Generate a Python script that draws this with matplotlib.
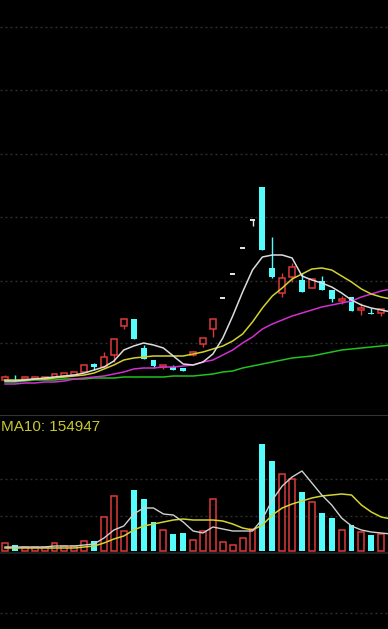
import matplotlib.pyplot as plt
import matplotlib

matplotlib.rcParams['lines.scale_dashes'] = False

# K线数据
opens  = [2.0, 2.22, 2.1, 2.1, 2.1, 2.3, 2.4, 2.5, 2.8, 3.6, 3.3, 4.5, 7.4, 8.1, 5.2, 4.0, 3.3, 3.3, 3.2, 4.5,
          5.6, 7.1, 10.2, 12.6, 15.2, 18.0, 21.3, 13.2, 10.7, 12.3, 12.0, 11.2, 11.9, 11.0, 9.9, 10.3, 9.0, 8.62, 8.7]
highs  = [2.5, 2.5, 2.4, 2.3, 2.3, 2.7, 2.7, 2.8, 3.5, 3.7, 4.8, 6.1, 8.1, 8.1, 5.5, 4.0, 3.5, 3.5, 3.2, 4.9,
          6.2, 8.1, 10.2, 12.6, 15.2, 18.0, 21.3, 16.3, 12.7, 13.7, 12.7, 12.1, 12.4, 11.0, 10.4, 10.3, 9.7, 9.2, 9.1]
lows   = [2.0, 1.9, 2.0, 2.1, 2.1, 2.3, 2.4, 2.5, 2.8, 3.0, 3.3, 3.8, 7.1, 6.1, 4.1, 3.2, 3.1, 3.0, 2.9, 4.4,
          5.3, 6.3, 10.2, 12.6, 15.2, 17.4, 15.0, 12.2, 10.3, 11.8, 10.8, 11.2, 11.0, 9.8, 9.6, 8.9, 8.5, 8.6, 8.4]
closes = [2.3, 2.18, 2.3, 2.3, 2.3, 2.6, 2.7, 2.8, 3.5, 3.3, 4.3, 6.1, 8.1, 6.1, 4.1, 3.4, 3.5, 3.0, 2.9, 4.8,
          6.2, 8.1, 10.2, 12.6, 15.2, 18.0, 15.0, 12.3, 12.2, 13.3, 10.8, 12.1, 11.0, 10.1, 10.1, 8.9, 9.2, 8.6, 9.1]

# 均线 (MA5 / MA10 / MA20 / MA60)
ma5  = [1.9, 1.9, 2.0, 2.1, 2.2, 2.3, 2.4, 2.5, 2.7, 3.0, 3.3, 3.9, 5.0, 5.4, 5.7, 5.5, 5.2, 4.4, 3.6, 3.5,
        3.8, 4.6, 6.2, 8.4, 10.8, 13.0, 14.3, 14.5, 14.5, 14.2, 12.4, 12.0, 11.7, 11.3, 10.7, 10.0, 9.5, 9.2, 9.0, 8.8]
ma10 = [2.0, 2.0, 2.0, 2.1, 2.1, 2.2, 2.3, 2.4, 2.5, 2.7, 3.1, 3.5, 4.0, 4.2, 4.3, 4.4, 4.4, 4.4, 4.4, 4.6,
        4.8, 5.1, 5.4, 5.9, 6.6, 7.8, 9.2, 10.4, 11.2, 12.1, 12.6, 13.1, 13.2, 13.0, 12.4, 11.8, 11.1, 10.6, 10.3, 10.1]
ma20 = [1.6, 1.6, 1.7, 1.7, 1.8, 1.8, 1.9, 2.1, 2.2, 2.3, 2.4, 2.6, 2.8, 3.1, 3.2, 3.2, 3.3, 3.3, 3.4, 3.5,
        3.8, 4.0, 4.5, 5.0, 5.7, 6.3, 7.1, 7.6, 8.0, 8.4, 8.7, 9.0, 9.3, 9.5, 9.7, 9.9, 10.3, 10.6, 10.9, 11.1]
ma60 = [1.8, 1.8, 1.9, 2.0, 2.0, 2.0, 2.1, 2.1, 2.1, 2.2, 2.2, 2.2, 2.3, 2.3, 2.3, 2.3, 2.3, 2.4, 2.4, 2.4,
        2.5, 2.6, 2.8, 2.9, 3.2, 3.4, 3.6, 3.8, 4.0, 4.2, 4.3, 4.4, 4.6, 4.8, 5.0, 5.1, 5.2, 5.3, 5.4, 5.5]

# 成交量
volume = [40200, 30800, 20500, 19800, 21300, 39600, 25400, 24800, 50300, 49700, 171200, 274500, 99800,
          305600, 258900, 146300, 104700, 85200, 89600, 55300, 100400, 259100, 45600, 30200, 65800, 110500,
          536400, 448700, 386200, 359300, 296400, 244800, 190500, 164300, 105200, 129800, 95600, 80400, 84900]
vol_ma5 = [20000, 20000, 20000, 20000, 20000, 25000, 25000, 25000, 30000, 35000, 65000, 105000, 125000,
           185000, 215000, 215000, 185000, 180000, 145000, 100000, 90000, 120000, 110000, 100000, 100000,
           100000, 160000, 255000, 325000, 370000, 400000, 340000, 280000, 230000, 165000, 125000, 105000,
           95000, 90000, 85000]
vol_ma10 = [15000, 15000, 15000, 15000, 15000, 15000, 15000, 15000, 20000, 25000, 40000, 60000, 75000,
            105000, 125000, 135000, 145000, 155000, 160000, 155000, 155000, 155000, 150000, 135000, 115000,
            105000, 130000, 180000, 215000, 235000, 250000, 265000, 275000, 280000, 285000, 280000, 230000,
            195000, 170000, 160000]

price_grid = [37.3, 31.0, 24.6, 18.3, 11.9, 5.7]
vol_grid = [175000, 360000]
ma10_label = 'MA10: 154947'

RED = '#dc3a3a'
CYAN = '#54fcfc'
GRID = '#303030'

W, H = 388, 629
fig = plt.figure(figsize=(W / 100, H / 100), dpi=100, facecolor='black')

xlim = (-5 / 9.9, 383 / 9.9)

# 上段: K线
ax1 = fig.add_axes([0, 1 - 416 / H, 1, 416 / H], facecolor='black')
ax1.set_xlim(*xlim)
ax1.set_ylim(-1.6, 40.0)
for g in price_grid:
    ax1.axhline(g, color=GRID, lw=1, dashes=(1.4, 2.2), zorder=1)

xs = range(len(opens))
for i in xs:
    o, h, l, c = opens[i], highs[i], lows[i], closes[i]
    if c > o:
        ax1.vlines(i, l, h, color=RED, lw=1, zorder=3)
        ax1.bar(i, c - o, bottom=o, width=0.6, facecolor='black', edgecolor=RED, lw=1.1, zorder=4)
    elif c < o:
        ax1.vlines(i, l, h, color=CYAN, lw=1, zorder=3)
        ax1.bar(i, max(o - c, 0.06), bottom=c, width=0.6, color=CYAN, lw=0, zorder=4)
    else:
        ax1.vlines(i, l, h, color='#e8e8e8', lw=1, zorder=3)
        ax1.hlines(c, i - 0.25, i + 0.25, color='#e8e8e8', lw=1.4, zorder=4)

mx = range(len(ma5))
ax1.plot(mx, ma60, color='#22c022', lw=1.1, zorder=5)
ax1.plot(mx, ma20, color='#d22fd2', lw=1.1, zorder=5)
ax1.plot(mx, ma10, color='#d2d22e', lw=1.1, zorder=5)
ax1.plot(mx, ma5, color='#dcdcdc', lw=1.1, zorder=5)

ax1.set_xticks([])
ax1.set_yticks([])
for s in ['top', 'left', 'right']:
    ax1.spines[s].set_visible(False)
ax1.spines['bottom'].set_color('#333333')
ax1.spines['bottom'].set_linewidth(1.5)

# 中段: 成交量
ax2 = fig.add_axes([0, 1 - 553 / H, 1, (553 - 416) / H], facecolor='black')
ax2.set_xlim(*xlim)
ax2.set_ylim(-10000, 675000)
for g in vol_grid:
    ax2.axhline(g, color=GRID, lw=1, dashes=(1.4, 2.2), zorder=1)
for i in range(len(volume)):
    if closes[i] >= opens[i]:
        ax2.bar(i, volume[i], width=0.6, facecolor='black', edgecolor=RED, lw=1.1, zorder=3)
    else:
        ax2.bar(i, volume[i], width=0.6, color=CYAN, lw=0, zorder=3)
vx = range(len(vol_ma5))
ax2.plot(vx, vol_ma10, color='#d4d430', lw=1.1, zorder=4)
ax2.plot(vx, vol_ma5, color='#d0d0d0', lw=1.0, zorder=4)
ax2.set_xticks([])
ax2.set_yticks([])
for s in ['top', 'left', 'right']:
    ax2.spines[s].set_visible(False)
ax2.spines['bottom'].set_color('#262626')
ax2.spines['bottom'].set_linewidth(1.2)

fig.text(1 / W, 1 - 427 / H, ma10_label, color='#c8c832', fontsize=11,
         family=['Liberation Sans', 'DejaVu Sans'], va='center', ha='left')

# 下段
ax3 = fig.add_axes([0, 0, 1, (629 - 553) / H], facecolor='black')
ax3.set_xlim(*xlim)
ax3.set_ylim(0, 76)
ax3.axhline(629 - 613, color=GRID, lw=1, dashes=(1.4, 2.2))
ax3.axis('off')

plt.savefig('out.png', dpi=100, facecolor='black')
plt.close()
